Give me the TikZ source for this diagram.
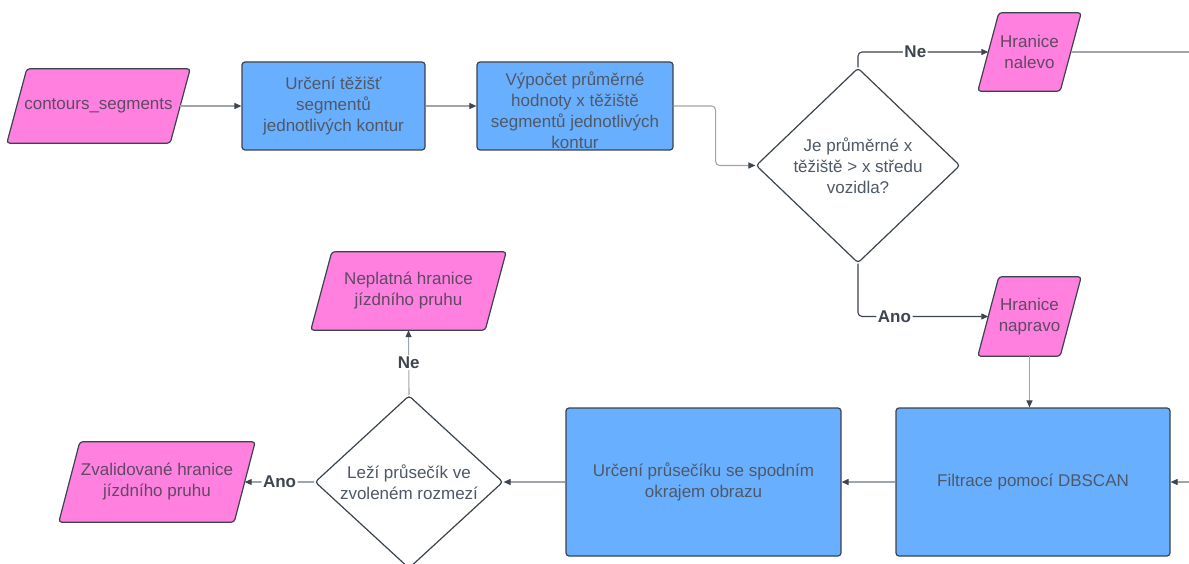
\documentclass[tikz,border=0pt]{standalone}
\usepackage{fontspec}
\setmainfont{Liberation Sans}
\usetikzlibrary{arrows.meta,shapes.geometric,backgrounds}

\definecolor{pinkfill}{HTML}{FF80DF}
\definecolor{bluefill}{HTML}{69AFFF}
\definecolor{edge}{HTML}{3B434D}
\definecolor{txt}{HTML}{4F5966}
\definecolor{ptxt}{HTML}{5E4A63}
\definecolor{wire}{HTML}{A0A5AB}
\definecolor{wiredark}{HTML}{3D4550}

\tikzset{
  base/.style={font=\fontsize{17}{21}\selectfont, align=center, inner sep=0pt},
  proc/.style={base, draw=edge, line width=1.2pt, fill=bluefill, rounded corners=3pt, text=txt},
  proctext/.style={base, text=txt},
  iotext/.style={base, text=ptxt},
  decision/.style={base, shape=diamond, draw=edge, line width=1.2pt, fill=white, text=txt, rounded corners=3pt},
  wire/.style={draw=wire, line width=1.1pt, rounded corners=4pt, -{Triangle[length=7pt,width=6pt,color=wiredark]}},
  darkwire/.style={wire, draw=wiredark},
  plainwire/.style={draw=wire, line width=1.1pt},
  tag/.style={font=\fontsize{17}{20}\selectfont\bfseries, text=wiredark, fill=white, inner sep=1.5pt},
  iofill/.style={draw=edge, line width=1.2pt, fill=pinkfill, rounded corners=3pt},
}

% input/output parallelogram drawn around a text node; the node's east/west
% anchors sit on the midpoints of the slanted sides
\newcommand{\slantbox}[2]{%
  \path[iofill] ([xshift=#2/2]#1.north west) -- ([xshift=#2/2]#1.north east)
    -- ([xshift=-#2/2]#1.south east) -- ([xshift=-#2/2]#1.south west) -- cycle;}

\begin{document}
\begin{tikzpicture}[x=1pt,y=-1pt]
\clip (0,0) rectangle (1189,564);

% input / output nodes
\node[iotext, minimum width=163, minimum height=74] (cs) at (98.5,106) {contours\_segments};
\node[iotext, minimum width=82, minimum height=78] (nl) at (1029.5,52) {Hranice\\nalevo};
\node[iotext, minimum width=82, minimum height=79] (np) at (1029.5,316.5) {Hranice\\napravo};
\node[iotext, minimum width=174, minimum height=78] (ne) at (408.5,291) {Neplatná hranice\\jízdního pruhu};
\node[iotext, minimum width=175, minimum height=80] (zv) at (157,482) {Zvalidované hranice\\jízdního pruhu};

% processing steps
\node[proc, minimum width=183, minimum height=88] (b1) at (333.5,106) {Určení těžišť\\segmentů\\jednotlivých kontur};
\node[proc, minimum width=196, minimum height=88] (b2) at (575,106) {};
\node[proctext] (b2t) at (575,110.5) {Výpočet průměrné\\hodnoty x těžiště\\segmentů jednotlivých\\kontur};
\node[proc, minimum width=275, minimum height=148] (b3) at (703.5,482) {Určení průsečíku se spodním\\okrajem obrazu};
\node[proc, minimum width=274, minimum height=148] (fl) at (1033,482) {Filtrace pomocí DBSCAN};

% decisions
\node[decision, minimum width=204, minimum height=195] (d1) at (858,165.5) {Je průměrné x\\těžiště > x středu\\vozidla?};
\node[decision, minimum width=188, minimum height=170] (d2) at (409,482) {Leží průsečík ve\\zvoleném rozmezí};

\begin{scope}[on background layer]
  \fill[white] (0,0) rectangle (1189,564);
  \slantbox{cs}{20}
  \slantbox{nl}{21}
  \slantbox{np}{21}
  \slantbox{ne}{21}
  \slantbox{zv}{21}
\end{scope}

% connectors
\coordinate (rout) at (1189,52);
\coordinate (rin) at (1189,482);
\draw[wire] (cs.east) -- (b1.west);
\draw[wire] (b1.east) -- (b2.west);
\draw[wire] (b2.east) -- ++(42,0) |- (d1.west);
\draw[darkwire] (d1.north) |- node[tag, pos=0.72] {Ne} (nl.west);
\draw[darkwire] (d1.south) |- node[tag, pos=0.64] {Ano} (np.west);
\draw[plainwire] (nl.east) -- (rout);
\draw[wire] (np.south) -- (np.south |- fl.north);
\draw[wire] (rin) -- (fl.east);
\draw[wire] (fl.west) -- (b3.east);
\draw[wire] (b3.west) -- (d2.east);
\draw[wire] (d2.north) -- node[tag] {Ne} (ne.south);
\draw[wire] (d2.west) -- node[tag] {Ano} (zv.east);
\end{tikzpicture}
\end{document}
